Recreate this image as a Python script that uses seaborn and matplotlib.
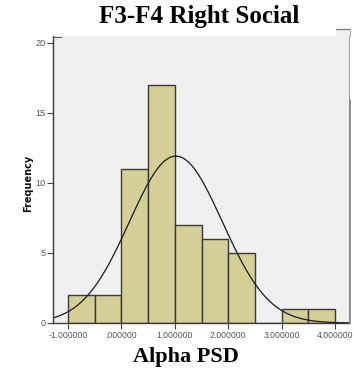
import numpy as np
import pandas as pd
import matplotlib
matplotlib.use("Agg")
import matplotlib.pyplot as plt
from matplotlib.lines import Line2D
from matplotlib.patches import Rectangle
import seaborn as sns

# Histogram of Alpha PSD (bin width 0.5)
bin_edges = [-1.0, -0.5, 0.0, 0.5, 1.0, 1.5, 2.0, 2.5, 3.0, 3.5, 4.0]
counts = [2, 2, 11, 17, 7, 6, 5, 0, 1, 1]
x_ticks = [-1, 0, 1, 2, 3, 4]
x_tick_labels = ["-1.000000", ".000000", "1.000000", "2.000000", "3.000000", "4.000000"]
y_ticks = [0, 5, 10, 15, 20]
fit_mean = 1.02
fit_sd = 0.87

W, H = 354, 373
sns.set_theme(style="white")
plt.rcParams["font.family"] = ["DejaVu Sans"]

fig = plt.figure(figsize=(W / 100, H / 100), dpi=100)
fig.patch.set_facecolor("white")


def fx(px):
    return px / W


def fy(py):
    return 1 - py / H


ax = fig.add_axes([fx(53), fy(323), fx(349) - fx(53), fy(36) - fy(323)])
ax.set_facecolor("#f0f0f0")

mids = [(a + b) / 2 for a, b in zip(bin_edges[:-1], bin_edges[1:])]
df = pd.DataFrame({"psd": mids, "n": counts})
sns.histplot(data=df, x="psd", weights="n", bins=bin_edges, ax=ax,
             color="#d3cf97", edgecolor="#3a3a3a", linewidth=1.0, alpha=1.0)

# Normal curve scaled to counts
xmin, xmax = -1.281, 4.262
xs = np.linspace(xmin, xmax, 400)
bw = bin_edges[1] - bin_edges[0]
ys = sum(counts) * bw / (fit_sd * np.sqrt(2 * np.pi)) * np.exp(-0.5 * ((xs - fit_mean) / fit_sd) ** 2)
sns.lineplot(x=xs, y=ys, ax=ax, color="#1a1a1a", linewidth=0.9)

ax.set_xlim(xmin, xmax)
ax.set_ylim(0, 20.5)
ax.set_xticks(x_ticks)
ax.set_xticklabels(x_tick_labels, family="Liberation Sans", fontsize=6.2)
ax.set_yticks(y_ticks)
ax.set_yticklabels([str(v) for v in y_ticks], family="Liberation Sans", fontsize=6.6)
ax.tick_params(axis="both", which="both", direction="out", length=4, width=0.8,
               color="#444444", labelcolor="#555555", pad=1.5,
               bottom=True, left=True)
ax.set_xlabel("")
ax.set_ylabel("")

ax.spines["top"].set_visible(False)
ax.spines["left"].set_color("#3a3a3a")
ax.spines["left"].set_linewidth(1.0)
ax.spines["bottom"].set_color("#3a3a3a")
ax.spines["bottom"].set_linewidth(1.0)
ax.spines["right"].set_color("#a8a8a8")
ax.spines["right"].set_linewidth(0.8)

# Frame pieces around the plot area
fig.add_artist(Line2D([fx(53), fx(61)], [fy(37), fy(37)], color="#555555", lw=0.8))
fig.add_artist(Line2D([fx(336), fx(349.5)], [fy(29), fy(29)], color="#777777", lw=0.9))
fig.add_artist(Line2D([fx(349.5), fx(349.5)], [fy(29), fy(36)], color="#a8a8a8", lw=0.8))
fig.add_artist(Rectangle((fx(336), fy(36)), fx(349) - fx(336), fy(29.5) - fy(36),
                         transform=fig.transFigure, facecolor="#f0f0f0", edgecolor="none"))
fig.add_artist(Line2D([fx(350), fx(350)], [fy(100), fy(323)], color="#888888", lw=1.3))

fig.text(fx(28), fy(183), "Frequency", rotation=90, ha="center", va="center",
         fontsize=7, fontweight="bold", color="#111111")
fig.text(fx(199), fy(17), "F3-F4 Right Social", ha="center", va="center",
         fontsize=18, fontweight="bold", family="Liberation Serif", color="black")
fig.text(fx(186), fy(357), "Alpha PSD", ha="center", va="center",
         fontsize=16, fontweight="bold", family="Liberation Serif", color="black", zorder=6)

fig.savefig("out.png", dpi=100)
